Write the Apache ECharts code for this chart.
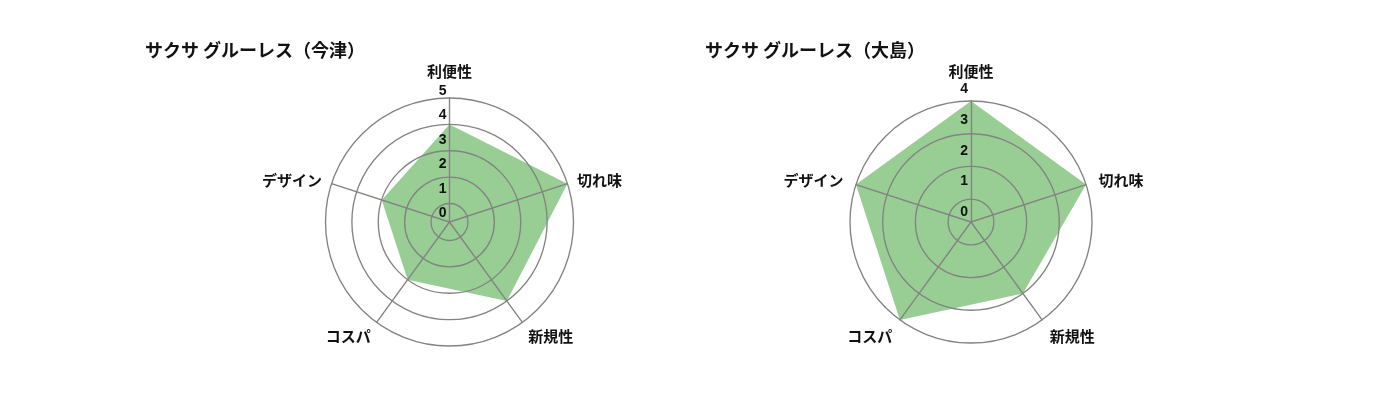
<!DOCTYPE html>
<html>
<head>
<meta charset="utf-8">
<script src="https://cdn.jsdelivr.net/npm/echarts@6/dist/echarts.min.js"></script>
<style>
html,body{margin:0;padding:0;background:#ffffff;}
#chart{width:1400px;height:420px;}
</style>
</head>
<body>
<div id="chart"></div>
<script>
// ---- data ----
const indicatorNames = ['利便性', '切れ味', '新規性', 'コスパ', 'デザイン'];
const chartTitles = ['サクサ グルーレス（今津）', 'サクサ グルーレス（大島）'];
const imazuValues = [4, 5, 4, 3, 3];
const oshimaValues = [4, 4, 3, 4, 4];
const imazuTickLabels = ['0', '1', '2', '3', '4', '5'];
const oshimaTickLabels = ['0', '1', '2', '3', '4'];

// ---- styling ----
const gridColor = '#838383';
const fillColor = 'rgb(152,206,148)';
const cjkFont = "'Noto Sans CJK JP', sans-serif";
const numFont = "'Liberation Sans', Arial, sans-serif";

// ECharts radar lays indicators counter-clockwise; the reference goes clockwise.
const order = [0, 4, 3, 2, 1];
const reorder = arr => order.map(i => arr[i]);

function nameFormatter(name) {
  if (name === '利便性') return '{hi|' + name + '}';
  if (name === '新規性' || name === 'コスパ') return '{lo|' + name + '}';
  return '{n|' + name + '}';
}
const nameBase = { fontSize: 15, fontWeight: 'bold', color: '#111', fontFamily: cjkFont };

function radarComp(center, radius, max, gap) {
  return {
    center: center,
    radius: radius,
    startAngle: 90,
    shape: 'circle',
    z: 5,
    nameGap: gap,
    indicator: reorder(indicatorNames).map(n => ({ name: n, min: 0.3, max: max })),
    axisName: {
      formatter: nameFormatter,
      rich: {
        n: Object.assign({}, nameBase),
        hi: Object.assign({ padding: [0, 0, 9, 0] }, nameBase),
        lo: Object.assign({ padding: [12, 0, 0, 0] }, nameBase)
      }
    },
    splitLine: { show: false },
    splitArea: { show: false },
    axisTick: { show: false },
    axisLabel: { show: false },
    axisLine: { show: true, lineStyle: { color: gridColor, width: 1.35 } }
  };
}

function tickFormatter(labels) {
  return function (v) {
    const r = Math.round(v);
    if (Math.abs(v - r) > 1e-6) return '';
    return labels[r] !== undefined ? labels[r] : '';
  };
}

function ringAxis(polarIndex, max, split) {
  return {
    polarIndex: polarIndex, type: 'value', min: 0.3, max: max, splitNumber: split, z: 5,
    axisLine: { show: false }, axisTick: { show: false }, axisLabel: { show: false },
    splitLine: { show: true, lineStyle: { color: gridColor, width: 1.35 } }
  };
}
function labelAxis(polarIndex, min, max, split, labels) {
  return {
    polarIndex: polarIndex, type: 'value', min: min, max: max, splitNumber: split, z: 6,
    axisLine: { show: false }, axisTick: { show: false }, splitLine: { show: false },
    axisLabel: {
      show: true, formatter: tickFormatter(labels), margin: 3,
      align: 'right', verticalAlign: 'middle',
      fontSize: 14, fontWeight: 'bold', color: '#111', fontFamily: numFont
    }
  };
}
function hiddenAngle(polarIndex) {
  return { polarIndex: polarIndex, type: 'value', min: 0, max: 360, startAngle: 90, show: false };
}

const leftC = [449.5, 222], rightC = [971, 222];

const option = {
  animation: false,
  title: [
    { text: chartTitles[0], left: 145, top: 41, padding: 0,
      textStyle: { fontSize: 18, fontWeight: 'bold', color: '#111', fontFamily: cjkFont } },
    { text: chartTitles[1], left: 705, top: 41, padding: 0,
      textStyle: { fontSize: 18, fontWeight: 'bold', color: '#111', fontFamily: cjkFont } }
  ],
  radar: [
    radarComp(leftC, 124, 5, 10),
    radarComp(rightC, 121, 4, 13)
  ],
  polar: [
    { center: leftC, radius: 124 },
    { center: rightC, radius: 121 },
    { center: leftC, radius: 143.6 },
    { center: rightC, radius: 147.7 }
  ],
  angleAxis: [hiddenAngle(0), hiddenAngle(1), hiddenAngle(2), hiddenAngle(3)],
  radiusAxis: [
    ringAxis(0, 5, 5),
    ringAxis(1, 4, 4),
    labelAxis(2, -0.35, 5.5, 5, imazuTickLabels),
    labelAxis(3, -0.327, 4.5, 4, oshimaTickLabels)
  ],
  series: [
    {
      type: 'radar', radarIndex: 0, symbol: 'none', silent: true,
      lineStyle: { width: 0 },
      areaStyle: { color: fillColor, opacity: 1 },
      data: [{ value: reorder(imazuValues), name: chartTitles[0] }]
    },
    {
      type: 'radar', radarIndex: 1, symbol: 'none', silent: true,
      lineStyle: { width: 0 },
      areaStyle: { color: fillColor, opacity: 1 },
      data: [{ value: reorder(oshimaValues), name: chartTitles[1] }]
    }
  ]
};

const chart = echarts.init(document.getElementById('chart'), null, { renderer: 'canvas' });
chart.setOption(option);
</script>
</body>
</html>
